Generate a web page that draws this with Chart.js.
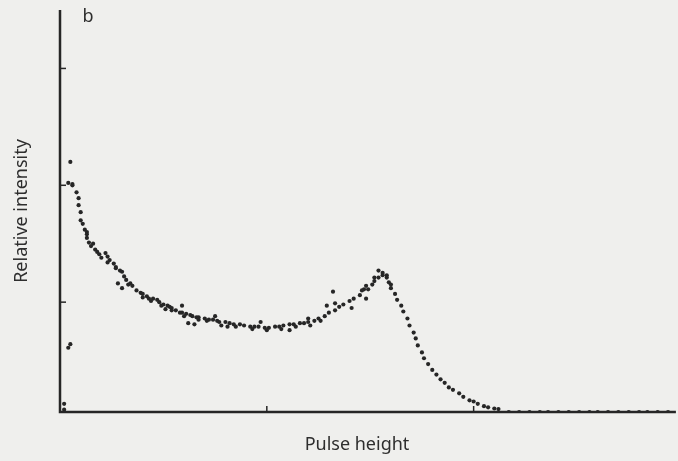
<!DOCTYPE html>
<html>
<head>
<meta charset="utf-8">
<script src="https://cdn.jsdelivr.net/npm/chart.js@4"></script>
<style>
  html, body { margin: 0; padding: 0; background: #efefed; }
  #wrap { width: 678px; height: 461px; position: relative; }
</style>
</head>
<body>
<div id="wrap"><canvas id="c" width="678" height="461"></canvas></div>
<script>
// Pulse height (channel units; ticks at 100 and 200)
const pulseHeight = [
  2, 2, 4, 5, 5, 4, 6, 6, 8, 9, 9, 10, 10, 11, 12, 13, 13, 14, 15, 17,
  18, 19, 20, 22, 23, 24, 26, 27, 29, 30, 31, 32, 34, 35, 28, 30, 37, 39, 40, 42,
  43, 45, 47, 48, 50, 52, 53, 54, 56, 58, 59, 61, 63, 64, 66, 67, 62, 65, 70, 72,
  74, 76, 77, 80, 82, 84, 87, 89, 92, 94, 96, 99, 101, 104, 106, 108, 111, 113, 116, 118,
  120, 123, 125, 128, 130, 133, 135, 137, 140, 142, 145, 147, 149, 151, 152, 154, 154, 156, 158, 159,
  160, 162, 163, 165, 166, 168, 169, 171, 172, 173, 175, 176, 178, 180, 182, 184, 186, 188, 190, 193,
  195, 198, 200, 202, 205, 207, 210, 212,
  // second row of the band
  71, 78, 85, 93, 100, 107, 114, 121, 126, 40, 44, 49, 54, 60, 67, 23, 27, 33, 13, 16,
  148, 152, 156, 158, 160,
  // scattered points
  51, 59, 75, 81, 97, 111, 120, 129, 132, 141, 133, 146, 148,
  // tail along the baseline
  217, 222, 227, 232, 236, 241, 246, 251, 256, 260, 265, 270, 275, 280, 284, 289, 294
];
// Relative intensity (ticks at 1, 2, 3)
const relIntensity = [
  0.13, 0.08, 0.61, 0.64, 2.20, 2.02, 2.01, 2.00, 1.94, 1.89, 1.83, 1.77, 1.70, 1.67, 1.62, 1.58, 1.55, 1.51, 1.48, 1.45,
  1.43, 1.41, 1.38, 1.42, 1.39, 1.36, 1.33, 1.30, 1.27, 1.26, 1.22, 1.19, 1.16, 1.14, 1.16, 1.12, 1.10, 1.08, 1.07, 1.05,
  1.03, 1.03, 1.02, 1.00, 0.98, 0.97, 0.96, 0.95, 0.93, 0.91, 0.91, 0.90, 0.89, 0.88, 0.87, 0.87, 0.82, 0.81, 0.86, 0.85,
  0.85, 0.84, 0.83, 0.83, 0.82, 0.81, 0.81, 0.80, 0.79, 0.79, 0.79, 0.78, 0.78, 0.79, 0.79, 0.80, 0.81, 0.81, 0.82, 0.82,
  0.83, 0.84, 0.86, 0.88, 0.91, 0.93, 0.96, 0.98, 1.01, 1.03, 1.06, 1.11, 1.11, 1.15, 1.18, 1.21, 1.27, 1.23, 1.23, 1.17,
  1.12, 1.07, 1.02, 0.97, 0.92, 0.86, 0.80, 0.74, 0.69, 0.63, 0.57, 0.52, 0.47, 0.42, 0.38, 0.34, 0.31, 0.27, 0.25, 0.22,
  0.19, 0.16, 0.15, 0.13, 0.11, 0.10, 0.09, 0.085,
  0.84, 0.80, 0.79, 0.77, 0.76, 0.77, 0.79, 0.80, 0.84, 1.04, 1.01, 0.97, 0.93, 0.88, 0.85, 1.34, 1.29, 1.15, 1.60, 1.50,
  1.14, 1.21, 1.25, 1.21, 1.15,
  0.94, 0.97, 0.88, 0.79, 0.83, 0.76, 0.86, 0.97, 1.09, 0.95, 0.99, 1.10, 1.03,
  0.06, 0.06, 0.06, 0.06, 0.06, 0.06, 0.06, 0.06, 0.06, 0.06, 0.06, 0.06, 0.06, 0.06, 0.06, 0.06, 0.06
];
const xTicks = [100, 200];
const yTicks = [1, 2, 3];
const panelLabel = 'b';
const xTitle = 'Pulse height';
const yTitle = 'Relative intensity';

const points = pulseHeight.map((x, i) => ({ x: x, y: relIntensity[i] }));

const INK = '#262626';

const framePlugin = {
  id: 'frame',
  beforeDraw(chart) {
    const ctx = chart.ctx;
    ctx.save();
    ctx.fillStyle = '#efefed';
    ctx.fillRect(0, 0, chart.width, chart.height);
    ctx.restore();
  },
  afterDatasetsDraw(chart) {
    const ctx = chart.ctx;
    const a = chart.chartArea;
    const xs = chart.scales.x, ys = chart.scales.y;
    ctx.save();
    ctx.strokeStyle = INK;
    ctx.lineWidth = 2.5;
    ctx.beginPath();
    ctx.moveTo(a.left, a.top);
    ctx.lineTo(a.left, a.bottom);
    ctx.lineTo(a.right, a.bottom);
    ctx.stroke();
    ctx.lineWidth = 1.5;
    yTicks.forEach(v => {
      const p = ys.getPixelForValue(v);
      ctx.beginPath();
      ctx.moveTo(a.left, p);
      ctx.lineTo(a.left + 6, p);
      ctx.stroke();
    });
    xTicks.forEach(v => {
      const p = xs.getPixelForValue(v);
      ctx.beginPath();
      ctx.moveTo(p, a.bottom);
      ctx.lineTo(p, a.bottom - 6);
      ctx.stroke();
    });
    ctx.fillStyle = '#2e2e2e';
    ctx.font = '18px "Noto Sans", sans-serif';
    ctx.textAlign = 'center';
    ctx.textBaseline = 'middle';
    ctx.fillText(xTitle, 357, 445);
    ctx.save();
    ctx.translate(22, 211);
    ctx.rotate(-Math.PI / 2);
    ctx.fillText(yTitle, 0, 0);
    ctx.restore();
    ctx.fillText(panelLabel, 88, 17);
    ctx.restore();
  }
};

new Chart(document.getElementById('c'), {
  type: 'scatter',
  data: {
    datasets: [{
      data: points,
      pointRadius: 2.1,
      pointHoverRadius: 2.1,
      pointBackgroundColor: INK,
      pointBorderWidth: 0,
      showLine: false
    }]
  },
  options: {
    responsive: false,
    animation: false,
    layout: { padding: { left: 60, right: 0, top: 10, bottom: 49 } },
    plugins: { legend: { display: false }, tooltip: { enabled: false } },
    scales: {
      x: { type: 'linear', display: false, min: 0, max: 297.8 },
      y: { type: 'linear', display: false, min: 0.06, max: 3.5 }
    }
  },
  plugins: [framePlugin]
});
</script>
</body>
</html>
